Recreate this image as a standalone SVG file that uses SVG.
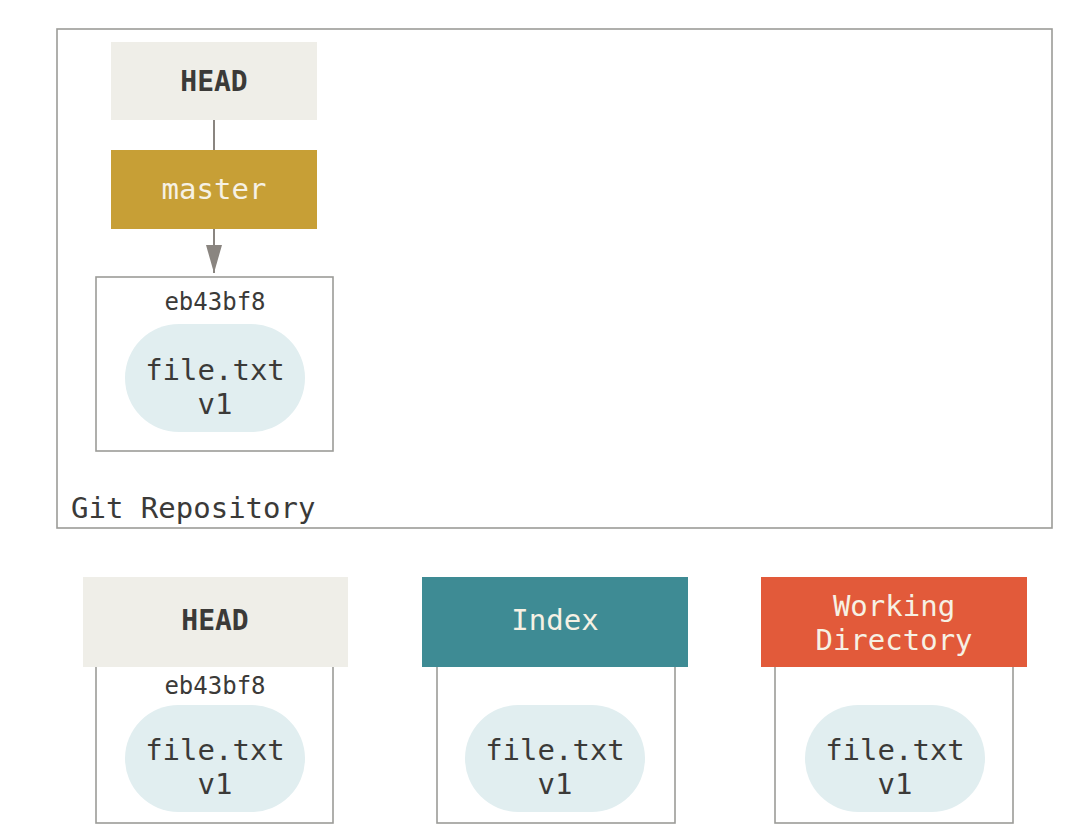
<svg xmlns="http://www.w3.org/2000/svg" width="1092" height="840" viewBox="0 0 1092 840">
<defs>
<style>
.frame{fill:#fff;stroke:#9c9c98;stroke-width:1.6}
.t{font-family:"DejaVu Sans Mono","Liberation Mono",monospace;text-anchor:middle}
.dark{fill:#3b3a38}
.light{fill:#f6f1e4}
.blob{fill:#e1eef0}
.head{fill:#efeee8}
</style>
<marker id="arr" viewBox="0 0 28 16" refX="28" refY="8" markerWidth="28" markerHeight="16" markerUnits="userSpaceOnUse" orient="auto">
<path d="M0,0 L28,8 L0,16 Z" fill="#8a8580"/>
</marker>
</defs>
<rect width="1092" height="840" fill="#fff"/>
<g id="repo">
<rect class="frame" x="57" y="29" width="995" height="499"/>
<text class="t dark" x="71" y="518" font-size="29" style="text-anchor:start">Git Repository</text>
</g>
<g id="connectors">
<line x1="214" y1="120" x2="214" y2="150" stroke="#8a8580" stroke-width="2"/>
<line x1="214" y1="229" x2="214" y2="273" stroke="#8a8580" stroke-width="2" marker-end="url(#arr)"/>
</g>
<g id="head-top">
<rect class="head" x="111" y="42" width="206" height="78"/>
<text class="t dark" x="214" y="91" font-size="28" font-weight="bold">HEAD</text>
</g>
<g id="master">
<rect x="111" y="150" width="206" height="79" fill="#c79f36"/>
<text class="t light" x="214" y="199" font-size="29">master</text>
</g>
<g id="commit">
<rect class="frame" x="96" y="277" width="237" height="174"/>
<text class="t dark" x="215" y="310" font-size="24">eb43bf8</text>
<rect class="blob" x="125" y="324" width="180" height="108" rx="54"/>
<text class="t dark" x="215" y="380" font-size="29">file.txt</text>
<text class="t dark" x="215" y="414" font-size="29">v1</text>
</g>
<g id="head-bottom">
<rect class="frame" x="96" y="640" width="237" height="183"/>
<rect class="head" x="83" y="577" width="265" height="90"/>
<text class="t dark" x="215" y="630" font-size="28" font-weight="bold">HEAD</text>
<text class="t dark" x="215" y="694" font-size="24">eb43bf8</text>
<rect class="blob" x="125" y="705" width="180" height="107" rx="53.5"/>
<text class="t dark" x="215" y="760" font-size="29">file.txt</text>
<text class="t dark" x="215" y="794" font-size="29">v1</text>
</g>
<g id="index">
<rect class="frame" x="437" y="640" width="238" height="183"/>
<rect x="422" y="577" width="266" height="90" fill="#3e8b94"/>
<text class="t light" x="555" y="630" font-size="29">Index</text>
<rect class="blob" x="465" y="705" width="180" height="107" rx="53.5"/>
<text class="t dark" x="555" y="760" font-size="29">file.txt</text>
<text class="t dark" x="555" y="794" font-size="29">v1</text>
</g>
<g id="working">
<rect class="frame" x="775" y="640" width="238" height="183"/>
<rect x="761" y="577" width="266" height="90" fill="#e25a3a"/>
<text class="t light" x="894" y="616" font-size="29">Working</text>
<text class="t light" x="894" y="650" font-size="29">Directory</text>
<rect class="blob" x="805" y="705" width="180" height="107" rx="53.5"/>
<text class="t dark" x="895" y="760" font-size="29">file.txt</text>
<text class="t dark" x="895" y="794" font-size="29">v1</text>
</g>
</svg>
